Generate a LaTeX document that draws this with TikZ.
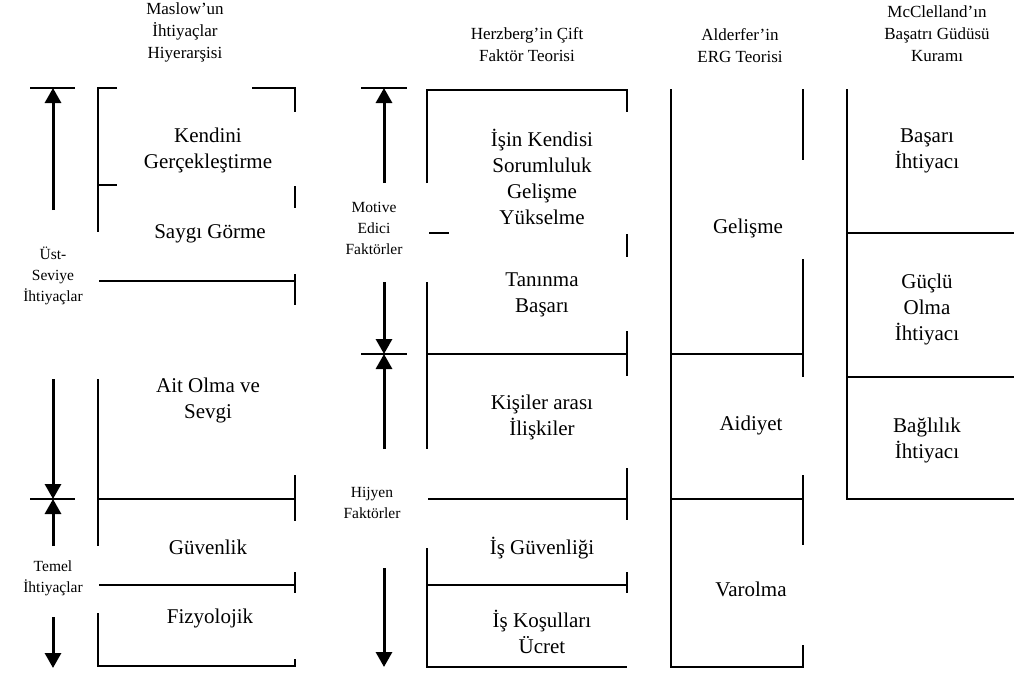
\documentclass[tikz,border=0pt]{standalone}
\usepackage{fontspec}
\setmainfont{Liberation Serif}
\usetikzlibrary{arrows.meta}

\begin{document}
\begin{tikzpicture}[x=1pt,y=-1pt,
  frame/.style={line width=1.3pt},
  bar/.style={line width=1.3pt},
  force/.style={line width=3pt, -{Triangle[width=16pt,length=15pt]}},
  lbl/.style={font=\fontsize{21}{26}\selectfont, align=center, inner sep=0pt},
  title/.style={font=\fontsize{17}{22}\selectfont, align=center, inner sep=0pt},
  side/.style={font=\fontsize{15.5}{21}\selectfont, align=center, inner sep=0pt}]
\useasboundingbox (0,0) rectangle (1014,672);

% ---------- column titles ----------
\node[title] (tMaslow) at (185,32) {Maslow'un\\İhtiyaçlar\\Hiyerarşisi};
\node[title] (tHerzberg) at (527,45) {Herzberg'in Çift\\Faktör Teorisi};
\node[title] (tAlderfer) at (740,46) {Alderfer'in\\ERG Teorisi};
\node[title] (tMcClelland) at (937,34) {McClelland'ın\\Başatrı Güdüsü\\Kuramı};

% ---------- Maslow: needs hierarchy ----------
\draw[frame] (117,88) -- (98,88) -- (98,232);
\draw[frame] (98,185) -- (117,185);
\draw[frame] (252,88) -- (295,88) -- (295,112);
\draw[frame] (295,186) -- (295,208);
\draw[frame] (99,281) -- (295,281);
\draw[frame] (295,274) -- (295,305);
\draw[frame] (295,475) -- (295,521);
\draw[frame] (98,379) -- (98,546);
\draw[frame] (98,499) -- (295,499);
\draw[frame] (99,585) -- (295,585);
\draw[frame] (295,572) -- (295,593);
\draw[frame] (98,613) -- (98,666) -- (295,666) -- (295,659);

\node[lbl] (kendini) at (208,150) {Kendini\\Gerçekleştirme};
\node[lbl] (saygi) at (210,234) {Saygı Görme};
\node[lbl] (ait) at (208,400) {Ait Olma ve\\Sevgi};
\node[lbl] (guvenlik) at (208,547) {Güvenlik};
\node[lbl] (fizyo) at (210,618) {Fizyolojik};

% upper / basic needs arrows
\coordinate (mTop) at (53,88);
\coordinate (mMid) at (53,499);
\coordinate (mA) at (53,210);
\coordinate (mB) at (53,379);
\coordinate (mC) at (53,546);
\coordinate (mD) at (53,617);
\coordinate (mE) at (53,668);
\draw[bar] (30,88) -- (75,88);
\draw[bar] (30,499) -- (75,499);
\draw[force] (mA) -- (mTop);
\draw[force] (mB) -- (mMid);
\draw[force] (mC) -- (mMid);
\draw[force] (mD) -- (mE);
\node[side] (ust) at (53,276) {Üst-\\Seviye\\İhtiyaçlar};
\node[side] (temel) at (53,578) {Temel\\İhtiyaçlar};

% ---------- Herzberg: two-factor theory ----------
\draw[frame] (427,183) -- (427,90) -- (627,90) -- (627,112);
\draw[frame] (429,233) -- (449,233);
\draw[frame] (627,234) -- (627,257);
\draw[frame] (427,282) -- (427,449);
\draw[frame] (427,354) -- (627,354);
\draw[frame] (627,331) -- (627,376);
\draw[frame] (627,468) -- (627,520);
\draw[frame] (428,499) -- (627,499);
\draw[frame] (427,548) -- (427,667) -- (627,667);
\draw[frame] (427,585) -- (627,585);
\draw[frame] (627,572) -- (627,593);

\node[lbl] (isin) at (542,177) {İşin Kendisi\\Sorumluluk\\Gelişme\\Yükselme};
\node[lbl] (taninma) at (542,295) {Tanınma\\Başarı};
\node[lbl] (kisiler) at (542,417) {Kişiler arası\\İlişkiler};
\node[lbl] (isguv) at (542,548) {İş Güvenliği};
\node[lbl] (iskos) at (542,632) {İş Koşulları\\Ücret};

\coordinate (hTop) at (384,88);
\coordinate (hMid) at (384,354);
\coordinate (hA) at (384,183);
\coordinate (hB) at (384,282);
\coordinate (hC) at (384,449);
\coordinate (hD) at (384,568);
\coordinate (hE) at (384,667);
\draw[bar] (361,88) -- (407,88);
\draw[bar] (361,354) -- (407,354);
\draw[force] (hA) -- (hTop);
\draw[force] (hB) -- (hMid);
\draw[force] (hC) -- (hMid);
\draw[force] (hD) -- (hE);
\node[side] (motive) at (374,228) {Motive\\Edici\\Faktörler};
\node[side] (hijyen) at (372,503) {Hijyen\\Faktörler};

% ---------- Alderfer: ERG theory ----------
\draw[frame] (803,89) -- (803,160);
\draw[frame] (671,89) -- (671,667) -- (803,667) -- (803,645);
\draw[frame] (803,259) -- (803,377);
\draw[frame] (671,354) -- (803,354);
\draw[frame] (803,475) -- (803,545);
\draw[frame] (671,499) -- (803,499);

\node[lbl] (gelisme) at (748,228) {Gelişme};
\node[lbl] (aidiyet) at (751,425) {Aidiyet};
\node[lbl] (varolma) at (751,589) {Varolma};

% ---------- McClelland: acquired needs ----------
\draw[frame] (847,89) -- (847,499) -- (1014,499);
\draw[frame] (847,233) -- (1014,233);
\draw[frame] (847,377) -- (1014,377);

\node[lbl] (basari) at (927,151) {Başarı\\İhtiyacı};
\node[lbl] (guclu) at (927,309) {Güçlü\\Olma\\İhtiyacı};
\node[lbl] (baglilik) at (927,440) {Bağlılık\\İhtiyacı};
\end{tikzpicture}
\end{document}
